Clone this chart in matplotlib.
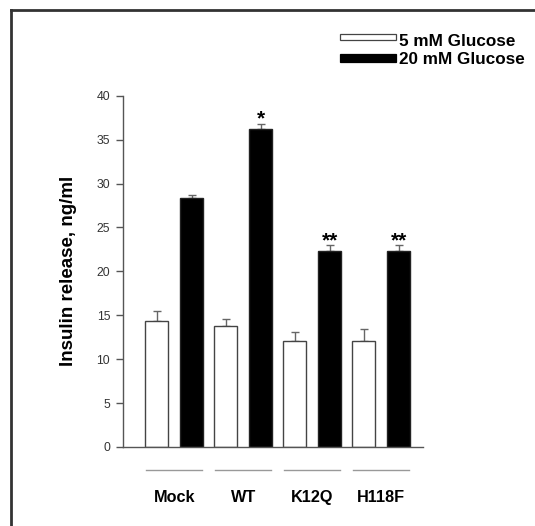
import matplotlib
matplotlib.use("Agg")
import matplotlib.pyplot as plt
import numpy as np
from matplotlib.lines import Line2D
from matplotlib.patches import Rectangle

plt.rcParams['font.family'] = ['Liberation Sans', 'DejaVu Sans']

groups = ["Mock", "WT", "K12Q", "H118F"]
low_glucose = [14.3, 13.8, 12.05, 12.05]
low_err = [1.2, 0.8, 1.0, 1.4]
high_glucose = [28.4, 36.2, 22.3, 22.3]
high_err = [0.3, 0.6, 0.65, 0.65]
stars = ["", "*", "**", "**"]
series_labels = ["5 mM Glucose", "20 mM Glucose"]
yticks = [0, 5, 10, 15, 20, 25, 30, 35, 40]

fig = plt.figure(figsize=(5.35, 5.26), dpi=100)
ax = fig.add_axes([0.2293, 0.1502, 0.5619, 0.6679])

x = np.arange(len(groups))
w = 0.333
off = 0.252
edge = "#444444"
ax.bar(x - off, low_glucose, w, color="white", edgecolor=edge, linewidth=1.0, zorder=2)
ax.bar(x + off, high_glucose, w, color="black", edgecolor="#222222", linewidth=1.0, zorder=2)
ax.errorbar(x - off, low_glucose, yerr=[np.zeros(len(groups)), low_err], fmt="none",
            ecolor="#666666", elinewidth=1.0, capsize=3, capthick=1.0, zorder=1)
ax.errorbar(x + off, high_glucose, yerr=[np.zeros(len(groups)), high_err], fmt="none",
            ecolor="#666666", elinewidth=1.0, capsize=3, capthick=1.0, zorder=1)

for xi, h, e, s in zip(x, high_glucose, high_err, stars):
    if s:
        ax.text(xi + off, h + e - 0.1, s, ha="center", va="baseline",
                fontsize=15, fontweight="bold", color="black")

ax.set_xlim(-0.746, 3.61)
ax.set_ylim(0, 40)
ax.set_yticks(yticks)
ax.set_xticks([])
ax.spines["top"].set_visible(False)
ax.spines["right"].set_visible(False)
for sp in ["left", "bottom"]:
    ax.spines[sp].set_color("#555555")
    ax.spines[sp].set_linewidth(1.0)
ax.tick_params(axis="y", direction="out", length=5, width=1.0, colors="#555555",
               labelcolor="#333333", labelsize=8.8, pad=4)
ax.set_ylabel("Insulin release, ng/ml", fontsize=13.5, fontweight="bold")
ax.yaxis.set_label_coords(-0.152, 0.5)

for xi, g in zip(x, groups):
    ax.plot([xi - 0.41, xi + 0.41], [-2.62, -2.62], color="#999999", lw=1.0,
            clip_on=False)
    ax.text(xi, -5.7, g, ha="center", va="center", fontsize=11.7,
            fontweight="bold", clip_on=False)

# legend drawn manually in figure pixels
W, H = 535, 526
def fx(px): return px / W
def fy(py): return 1 - py / H
fig.patches.append(Rectangle((fx(340), fy(39.5)), fx(396) - fx(340), fy(34) - fy(39.5),
                             transform=fig.transFigure, facecolor="white",
                             edgecolor="#444444", lw=0.9))
fig.patches.append(Rectangle((fx(340), fy(61.7)), fx(396) - fx(340), fy(54.3) - fy(61.7),
                             transform=fig.transFigure, facecolor="black",
                             edgecolor="black", lw=0.9))
fig.text(fx(399), fy(41), series_labels[0], fontsize=12.3, fontweight="bold",
         va="center", ha="left")
fig.text(fx(399), fy(59.5), series_labels[1], fontsize=12.3, fontweight="bold",
         va="center", ha="left")

# outer frame
fig.add_artist(Line2D([fx(10.5), fx(10.5)], [fy(9.5), 0], transform=fig.transFigure,
                      color="#333333", lw=2))
fig.add_artist(Line2D([fx(10.5), 1], [fy(9.5), fy(9.5)], transform=fig.transFigure,
                      color="#333333", lw=2))

fig.savefig("out.png", dpi=100)
